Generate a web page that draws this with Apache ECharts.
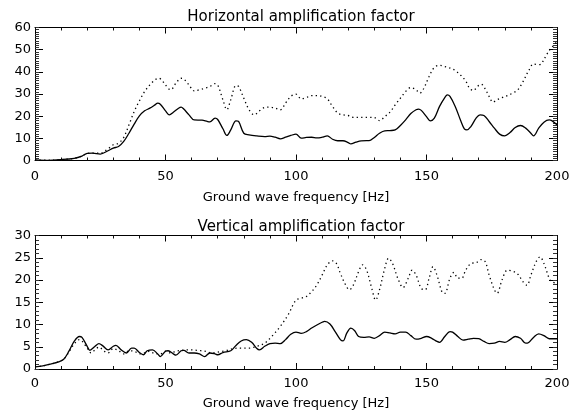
<!DOCTYPE html>
<html>
<head>
<meta charset="utf-8">
<script src="https://cdn.jsdelivr.net/npm/echarts@6/dist/echarts.min.js"></script>
<style>
  html, body { margin: 0; padding: 0; background: #fff; }
  #chart { width: 578px; height: 411px; }
</style>
</head>
<body>
<div id="chart"></div>
<script>
// --- data ---
var xTicks = [0, 50, 100, 150, 200];

// horizontal amplification, solid curve
var hSolidF = [0, 5, 10, 15, 18, 20, 22, 25, 28, 30, 32, 34, 36, 38, 40, 42, 44, 46, 47, 48, 50, 51.5, 53, 55, 56, 57, 59, 61, 64, 66, 67, 69, 70, 72, 73.5, 75, 77, 78, 80, 82, 85, 88, 90, 92, 94, 96, 98,
  100, 102, 104, 106, 108, 110, 112, 114, 116, 118, 120, 121, 123, 125, 127, 128, 130, 132, 134, 136, 138, 140, 142, 144, 146, 147, 148, 150, 151.5, 153, 155, 157, 158, 159, 161, 163, 164.5, 165.5, 167, 169, 170.5, 172, 174, 176, 178, 180, 182, 184, 186, 188, 190, 191, 193, 195, 197, 198, 200];
var hSolidV = [0.3, 0.1, 0.4, 1, 2, 3.2, 3.3, 2.9, 4.4, 5.6, 6.3, 8.6, 12.3, 16.4, 20.1, 22.4, 23.6, 25.1, 25.9, 25.4, 22.4, 20.6, 21.8, 23.6, 24.1, 23.2, 20.6, 18.3, 18.2, 17.6, 17.4, 19.1, 18.5, 14.3, 11.3, 13.8, 17.9, 17.6, 12.3, 11.6, 11.1, 10.8, 11.0, 10.5, 9.8, 10.5, 11.3,
  11.9, 10.1, 10.4, 10.5, 10.2, 10.5, 11.1, 9.6, 8.9, 8.9, 8.1, 7.5, 8.3, 8.9, 9.0, 9.0, 10.4, 12.3, 13.4, 13.5, 13.8, 15.8, 18.3, 21.2, 22.9, 23.2, 22.6, 19.8, 17.9, 19.1, 24.4, 28.4, 29.6, 28.9, 24.4, 18.3, 14.3, 13.8, 15.3, 19.1, 20.6, 20.3, 17.6, 14.6, 11.9, 11.1, 12.6, 14.9, 15.8, 14.6, 12.3, 11.1, 14.6, 17.3, 18.3, 18.0, 16.1];

// horizontal amplification, dotted curve
var hDotF = [0, 5, 10, 15, 18, 20, 22, 25, 28, 30, 32, 34, 36, 38, 40, 42, 44, 46, 47.5, 49, 51, 52, 54, 56, 57, 59, 61, 63, 65, 67, 69, 70, 72, 73.5, 75, 77, 78, 80, 82, 84, 86, 88, 90, 92, 94, 96, 98,
  100, 102, 104, 106, 108, 110, 112, 114, 116, 118, 120, 122, 124, 126, 128, 130, 132, 134, 136, 138, 140, 142, 144, 146, 147.5, 149, 151, 153, 155, 157, 159, 161, 163, 165, 166.5, 168, 169.5, 171, 172.5, 174, 175.5, 177, 179, 181, 183, 185, 187, 189, 191, 193, 194, 196, 197.5, 199, 200];
var hDotV = [0.3, 0.1, 0.4, 1, 2, 3.2, 3.3, 3.3, 5.3, 7.1, 7.8, 10.4, 16.1, 22.1, 26.9, 31.1, 34.1, 36.4, 37.1, 35.6, 32.6, 31.9, 34.9, 37.1, 36.8, 34.1, 31.4, 31.9, 32.6, 33.4, 34.7, 34.1, 27.4, 22.9, 27.4, 33.8, 33.4, 28.1, 22.9, 20.6, 22.4, 23.9, 24.1, 23.6, 22.9, 25.9, 28.9,
  29.9, 27.8, 28.4, 29.3, 29.3, 28.9, 27.8, 24.4, 21.4, 20.6, 20.3, 19.5, 19.5, 19.5, 19.5, 19.4, 18.0, 19.8, 21.8, 25.1, 28.1, 31.1, 32.9, 31.9, 30.4, 32.6, 37.9, 42.0, 42.9, 42.4, 41.7, 40.6, 38.6, 35.9, 32.6, 31.6, 33.4, 34.4, 32.3, 28.9, 26.3, 27.4, 28.4, 29.3, 30.4, 31.9, 35.6, 40.2, 43.5, 43.2, 43.6, 47.7, 50.4, 52.2, 53.7];

// vertical amplification, solid curve
var vSolidF = [0, 3, 6, 9, 11, 13, 15, 17, 18, 20, 21, 23, 24.5, 26, 28, 30, 31, 33, 35, 37, 38, 40, 41.5, 43, 45, 47, 48, 50, 51, 53, 54, 56, 57, 59, 61, 63, 65, 67, 69, 70, 72, 75, 77, 79, 81, 83, 85, 86, 88, 90, 92, 94, 96, 98,
  100, 102, 104, 106, 108, 110, 111, 113, 115, 117, 118, 119.5, 121, 122.5, 124, 126, 128, 130, 132, 134, 136, 138, 140, 142, 144, 146, 148, 150, 152, 154, 155, 157, 159, 160, 162, 164, 166, 168, 170, 172, 174, 176, 178, 180, 182, 184, 186, 188, 189, 191, 193, 195, 197, 200];
var vSolidV = [0.5, 0.7, 1.1, 1.6, 2.2, 4.0, 6.2, 7.3, 7.1, 5.1, 4.2, 5.1, 5.7, 5.2, 4.3, 5.1, 5.3, 4.3, 3.6, 4.7, 4.7, 3.7, 3.2, 4.1, 4.3, 3.4, 2.8, 4.0, 4.1, 3.4, 3.1, 4.1, 4.2, 3.6, 3.6, 3.4, 2.8, 3.6, 3.4, 3.2, 3.7, 4.1, 5.3, 6.3, 6.6, 6.0, 4.6, 4.3, 5.1, 5.7, 5.8, 5.7, 6.6, 7.8,
  8.3, 8.0, 8.4, 9.2, 9.9, 10.5, 10.7, 10.1, 8.4, 6.6, 6.3, 8.1, 9.2, 8.6, 7.3, 7.1, 7.2, 6.9, 7.5, 8.3, 8.1, 7.9, 8.3, 8.3, 7.5, 6.7, 6.9, 7.3, 6.9, 6.2, 6.0, 7.3, 8.4, 8.3, 7.3, 6.5, 6.7, 6.9, 6.8, 6.2, 5.7, 5.8, 6.2, 6.0, 6.6, 7.3, 6.9, 5.8, 5.9, 7.1, 7.9, 7.5, 6.8, 6.8];

// vertical amplification, dotted curve
var vDotF = [0, 3, 6, 9, 11, 13, 15, 17, 18, 20, 21.5, 23, 24.5, 26.5, 28, 30, 32, 34, 36, 38, 40, 42, 44, 46, 48, 50, 52, 54, 56, 58, 60, 62, 65, 68, 70, 73, 76, 79, 82, 85, 88, 91, 94, 97,
  100, 102, 104, 106, 108, 110, 112, 114, 115.5, 117, 119, 120.5, 122, 124, 125.5, 127, 129, 130.5, 132, 134, 135.5, 137, 139, 141, 143, 144.5, 146, 148, 149.5, 151, 152.5, 154, 156, 157, 159, 160.5, 162, 163.5, 165, 167, 169, 171, 172.5, 174, 176, 177, 179, 181, 183, 185, 187, 188.5, 190, 192, 193.5, 195, 197, 198, 200];
var vDotV = [0.5, 0.7, 1.1, 1.6, 2.2, 3.8, 5.6, 6.6, 6.3, 4.7, 3.6, 4.3, 4.9, 4.0, 3.6, 4.6, 4.1, 3.4, 4.1, 4.0, 3.4, 3.6, 4.0, 3.4, 3.4, 4.0, 3.6, 4.0, 4.2, 4.3, 4.3, 4.2, 4.0, 3.6, 3.8, 4.1, 4.6, 4.7, 4.7, 5.1, 5.8, 7.5, 9.6, 12.2,
  15.5, 15.9, 16.3, 17.4, 18.9, 21.1, 23.4, 24.3, 23.7, 21.5, 18.9, 17.8, 18.9, 21.9, 23.4, 22.3, 18.2, 15.5, 17.8, 22.6, 24.9, 23.7, 20.4, 18.3, 20.4, 22.2, 21.1, 18.1, 17.8, 20.4, 23.0, 21.1, 17.2, 17.0, 20.4, 21.7, 20.4, 20.4, 22.2, 23.7, 23.9, 24.6, 24.1, 21.1, 17.8, 17.0, 20.1, 22.2, 22.0, 21.3, 19.6, 18.8, 21.1, 24.1, 25.2, 23.7, 20.4, 19.6, 19.3];

function pairs(f, v) {
  return f.map(function(x, i) { return [x, v[i]]; });
}

var font = 'DejaVu Sans';
var ink = '#000';

// a tick-only axis, used for the minor ticks and the mirrored box sides
function tickAxis(gridIndex, position, max, interval, len, showLine, color) {
  return {
    type: 'value', gridIndex: gridIndex, position: position,
    min: 0, max: max, interval: interval,
    axisLine: { show: showLine, onZero: false, lineStyle: { color: ink, width: 1 } },
    axisTick: { show: true, inside: true, length: len, lineStyle: { color: color, width: 1 } },
    axisLabel: { show: false },
    splitLine: { show: false }
  };
}

// 4 x axes per grid: labelled bottom, mirrored top, minor bottom, minor top
function xAxes(g) {
  var main = tickAxis(g, 'bottom', 200, 50, 6, true, ink);
  main.name = 'Ground wave frequency [Hz]';
  main.nameLocation = 'middle';
  main.nameGap = g === 0 ? 31 : 28;
  main.nameTextStyle = { color: ink, fontFamily: font, fontSize: 13 };
  main.axisLabel = { show: true, color: ink, fontFamily: font, fontSize: 13, margin: g === 0 ? 10 : 8,
    formatter: function(v) { return xTicks.indexOf(v) >= 0 ? String(v) : ''; } };
  return [
    main,
    tickAxis(g, 'top', 200, 50, 6, true, ink),
    tickAxis(g, 'bottom', 200, 10, 3, false, '#111'),
    tickAxis(g, 'top', 200, 10, 3, false, '#111')
  ];
}

// 4 y axes per grid: labelled left, mirrored right, minor left, minor right
function yAxes(g, max, interval) {
  var main = tickAxis(g, 'left', max, interval, 8, true, ink);
  main.axisLabel = { show: true, color: ink, fontFamily: font, fontSize: 13, margin: 4 };
  return [
    main,
    tickAxis(g, 'right', max, interval, 8, true, ink),
    tickAxis(g, 'left', max, 1, 4, false, '#333'),
    tickAxis(g, 'right', max, 1, 4, false, '#333')
  ];
}

var solid = { color: ink, width: 1.3 };
var dotted = { color: ink, width: 1.3, type: [1.3, 3.2] };

var chart = echarts.init(document.getElementById('chart'), null, { renderer: 'canvas' });
chart.setOption({
  animation: false,
  backgroundColor: '#fff',
  title: [
    { text: 'Horizontal amplification factor', left: 296, top: 5, textAlign: 'center',
      textStyle: { color: ink, fontFamily: font, fontSize: 15, fontWeight: 'normal' } },
    { text: 'Vertical amplification factor', left: 296, top: 215, textAlign: 'center',
      textStyle: { color: ink, fontFamily: font, fontSize: 15, fontWeight: 'normal' } }
  ],
  grid: [
    { left: 35, right: 21, top: 27.5, height: 133 },
    { left: 35, right: 21, top: 235.5, height: 134 }
  ],
  xAxis: xAxes(0).concat(xAxes(1)),
  yAxis: yAxes(0, 60, 10).concat(yAxes(1, 30, 5)),
  series: [
    { type: 'line', xAxisIndex: 0, yAxisIndex: 0, data: pairs(hDotF, hDotV), showSymbol: false, smooth: 0.35, lineStyle: dotted },
    { type: 'line', xAxisIndex: 0, yAxisIndex: 0, data: pairs(hSolidF, hSolidV), showSymbol: false, smooth: 0.35, lineStyle: solid },
    { type: 'line', xAxisIndex: 4, yAxisIndex: 4, data: pairs(vDotF, vDotV), showSymbol: false, smooth: 0.35, lineStyle: dotted },
    { type: 'line', xAxisIndex: 4, yAxisIndex: 4, data: pairs(vSolidF, vSolidV), showSymbol: false, smooth: 0.35, lineStyle: solid }
  ]
});
</script>
</body>
</html>
